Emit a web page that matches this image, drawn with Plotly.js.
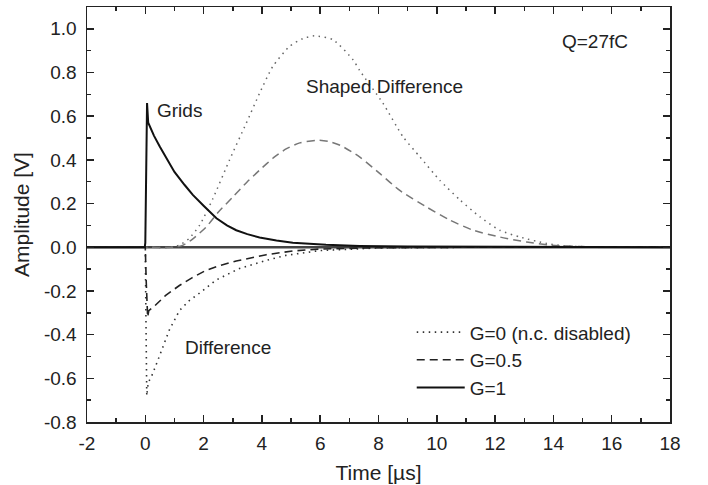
<!DOCTYPE html>
<html>
<head>
<meta charset="utf-8">
<script src="https://cdn.plot.ly/plotly-3.0.1.min.js"></script>
<style>html,body{margin:0;padding:0;background:#fff;}#chart{width:708px;height:485px;}</style>
</head>
<body>
<div id="chart"></div>
<script>
// Grids signal (solid, G=1)
const gridT = [-2, -0.02, 0.0, 0.03, 0.06, 0.1, 0.3, 0.5, 0.75, 1.0, 1.35, 1.63, 2.0, 2.44, 2.8, 3.12, 3.5, 3.92, 4.5, 5.06, 6.2, 7.35, 9, 12, 15, 18];
const gridV = [0, 0, 0.02, 0.40, 0.66, 0.57, 0.51, 0.46, 0.40, 0.345, 0.285, 0.24, 0.19, 0.133, 0.10, 0.078, 0.06, 0.045, 0.031, 0.021, 0.011, 0.006, 0.003, 0.001, 0, 0];

// Difference G=0 (dotted)
const diff0T = [-2, 0.0, 0.02, 0.05, 0.1, 0.25, 0.48, 0.82, 1.17, 1.5, 1.86, 2.43, 3.23, 4.15, 4.83, 6.0, 8.0, 11, 18];
const diff0V = [0, 0, -0.3, -0.68, -0.62, -0.58, -0.50, -0.38, -0.29, -0.245, -0.21, -0.15, -0.097, -0.06, -0.037, -0.015, -0.003, 0, 0];

// Difference G=0.5 (dashed)
const diff05T = [-2, 0.0, 0.03, 0.08, 0.12, 0.31, 0.7, 1.17, 1.6, 2.09, 2.6, 3.12, 4.15, 5.05, 6.0, 8.0, 11, 18];
const diff05V = [0, 0, -0.15, -0.32, -0.29, -0.27, -0.22, -0.175, -0.14, -0.105, -0.082, -0.063, -0.034, -0.017, -0.008, -0.002, 0, 0];

// Shaped difference G=0 (dotted)
const shaped0T = [-2, 0, 0.8, 1.17, 1.5, 1.86, 2.31, 2.89, 3.46, 3.92, 4.37, 4.95, 5.4, 5.8, 6.44, 7.13, 7.35, 8.15, 8.84, 9.42, 10.1, 10.8, 11.48, 12.16, 12.85, 13.77, 14.5, 18];
const shaped0V = [0, 0, 0, 0.01, 0.04, 0.10, 0.22, 0.40, 0.567, 0.705, 0.827, 0.92, 0.955, 0.968, 0.95, 0.858, 0.81, 0.66, 0.506, 0.414, 0.307, 0.216, 0.139, 0.078, 0.047, 0.017, 0.005, 0];

// Shaped difference G=0.5 (dashed)
const shaped05T = [-2, 0, 1.0, 1.3, 1.6, 2.09, 2.5, 3.0, 3.5, 3.92, 4.4, 4.83, 5.3, 5.9, 6.3, 6.7, 7.35, 8.04, 8.73, 9.64, 10.45, 11.25, 12.16, 13.08, 13.9, 15, 18];
const shaped05V = [0, 0, 0, 0.01, 0.035, 0.093, 0.16, 0.23, 0.30, 0.353, 0.41, 0.45, 0.478, 0.49, 0.484, 0.466, 0.414, 0.338, 0.26, 0.185, 0.124, 0.078, 0.047, 0.024, 0.01, 0.003, 0];

// Difference G=1 (flat)
const diff1T = [-2, 18];
const diff1V = [0, 0];

const legendNames = ['G=0 (n.c. disabled)', 'G=0.5', 'G=1'];

const xTickVals = [-2, 0, 2, 4, 6, 8, 10, 12, 14, 16, 18];
const xTickText = ['-2', '0', '2', '4', '6', '8', '10', '12', '14', '16', '18'];
const yTickVals = [-0.8, -0.6, -0.4, -0.2, 0.0, 0.2, 0.4, 0.6, 0.8, 1.0];
const yTickText = ['-0.8', '-0.6', '-0.4', '-0.2', '0.0', '0.2', '0.4', '0.6', '0.8', '1.0'];

const FONT = 'Liberation Sans, Arial, sans-serif';
const DOT = '1.5px,4.5px';
const DASH = '8px,5px';

const traces = [
  {x: diff1T, y: diff1V, mode: 'lines', line: {color: '#444', width: 2.5}, showlegend: false, hoverinfo: 'skip'},
  {x: shaped0T, y: shaped0V, mode: 'lines', line: {color: '#666', width: 1.5, dash: DOT, shape: 'spline', smoothing: 0.6}, legendgroup: 'g0', showlegend: false},
  {x: shaped05T, y: shaped05V, mode: 'lines', line: {color: '#777', width: 1.5, dash: DASH, shape: 'spline', smoothing: 0.6}, legendgroup: 'g05', showlegend: false},
  {x: diff0T, y: diff0V, mode: 'lines', name: legendNames[0], line: {color: '#333', width: 1.6, dash: DOT}, legendgroup: 'g0', showlegend: true},
  {x: diff05T, y: diff05V, mode: 'lines', name: legendNames[1], line: {color: '#222', width: 1.6, dash: DASH}, legendgroup: 'g05', showlegend: true},
  {x: gridT, y: gridV, mode: 'lines', name: legendNames[2], line: {color: '#111', width: 2}, legendgroup: 'g1', showlegend: true}
];

const axisCommon = {
  showgrid: false, zeroline: false, showline: true, linecolor: '#222', linewidth: 1.5,
  mirror: 'allticks', ticks: 'inside', ticklen: 7, tickwidth: 1.5, tickcolor: '#222',
  tickmode: 'array',
  tickfont: {family: FONT, size: 19, color: '#222'}
};

const layout = {
  width: 708, height: 485,
  margin: {l: 87, r: 38, t: 7, b: 63},
  paper_bgcolor: '#fff', plot_bgcolor: '#fff',
  font: {family: FONT, color: '#222'},
  showlegend: true,
  legend: {x: 0.557, y: 0.262, xanchor: 'left', yanchor: 'top', bgcolor: 'rgba(0,0,0,0)', borderwidth: 0,
           font: {family: FONT, size: 19, color: '#222'}, itemwidth: 48, tracegroupgap: 0},
  xaxis: Object.assign({}, axisCommon, {
    range: [-2, 18], tickvals: xTickVals, ticktext: xTickText,
    minor: {ticks: 'inside', ticklen: 4, tickwidth: 1.5, tickcolor: '#222', showgrid: false, tick0: -1, dtick: 2},
    ticklabelstandoff: 4,
    title: {text: 'Time [µs]', font: {family: FONT, size: 21, color: '#222'}, standoff: 12}
  }),
  yaxis: Object.assign({}, axisCommon, {
    range: [-0.8, 1.1], tickvals: yTickVals, ticktext: yTickText,
    minor: {ticks: 'inside', ticklen: 4, tickwidth: 1.5, tickcolor: '#222', showgrid: false, tick0: -0.7, dtick: 0.2},
    ticklabelstandoff: 5,
    title: {text: 'Amplitude [V]', font: {family: FONT, size: 21, color: '#222'}, standoff: 8}
  }),
  annotations: [
    {x: 1.16, y: 0.628, xref: 'x', yref: 'y', text: 'Grids', showarrow: false, font: {family: FONT, size: 19, color: '#222'}},
    {x: 8.22, y: 0.738, xref: 'x', yref: 'y', text: 'Shaped Difference', showarrow: false, font: {family: FONT, size: 19, color: '#222'}},
    {x: 15.43, y: 0.94, xref: 'x', yref: 'y', text: 'Q=27fC', showarrow: false, font: {family: FONT, size: 19, color: '#222'}},
    {x: 2.84, y: -0.457, xref: 'x', yref: 'y', text: 'Difference', showarrow: false, font: {family: FONT, size: 19, color: '#222'}}
  ]
};

Plotly.newPlot('chart', traces, layout, {displayModeBar: false, staticPlot: true});
</script>
</body>
</html>
